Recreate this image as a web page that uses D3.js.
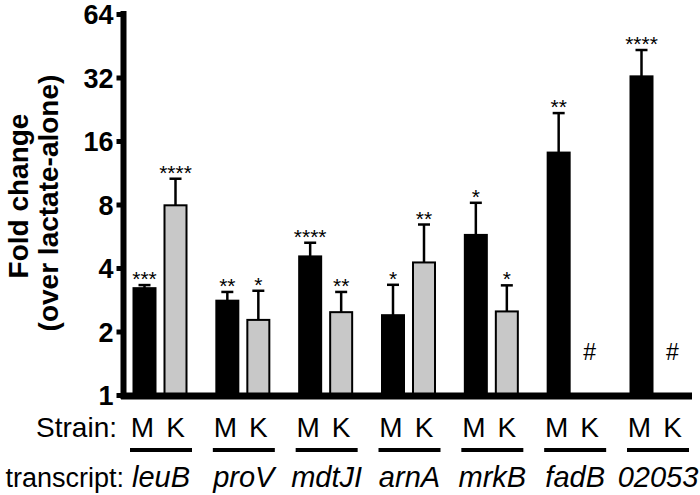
<!DOCTYPE html>
<html><head><meta charset="utf-8">
<script src="https://cdn.jsdelivr.net/npm/d3@7"></script>
<style>body{margin:0;background:#fff}svg{display:block}text{font-family:"Liberation Sans",Arial,sans-serif}</style>
</head><body><svg id="c" width="700" height="495"></svg>
<script>
const transcripts = ["leuB","proV","mdtJI","arnA","mrkB","fadB","02053"];
const strains = ["M","K"];
const mValues = [3.21, 2.80, 4.54, 2.39, 5.74, 14.1, 32.4];
const mUpper  = [3.32, 3.08, 5.27, 3.33, 8.15, 21.7, 43.2];
const kValues = [7.93, 2.27, 2.47, 4.25, 2.49, null, null];
const kUpper  = [10.6, 3.12, 3.08, 6.43, 3.31, null, null];
const mSig = ["***","**","****","*","*","**","****"];
const kSig = ["****","*","**","**","*","#","#"];
const yTicks = [1,2,4,8,16,32,64];

const svg = d3.select("#c");
const y = d3.scaleLog().base(2).domain([1,64]).range([395,14]);
const x = d3.scalePoint().domain(transcripts).range([160,657]);
const xs = d3.scalePoint().domain(strains).range([-15.5,15.5]);
const bw = 22;

const rows = [];
transcripts.forEach((t,i)=>{
  rows.push({t, s:"M", v:mValues[i], u:mUpper[i], sig:mSig[i]});
  rows.push({t, s:"K", v:kValues[i], u:kUpper[i], sig:kSig[i]});
});
const bars = rows.filter(d=>d.v!=null);

svg.selectAll("rect.bar").data(bars).join("rect")
  .attr("x", d=>x(d.t)+xs(d.s)-bw/2)
  .attr("y", d=>y(d.v))
  .attr("width", bw)
  .attr("height", d=>y(1)-y(d.v))
  .attr("fill", d=>d.s==="M"?"#000":"#c8c8c8")
  .attr("stroke","#000").attr("stroke-width",2);

svg.selectAll("line.err").data(bars).join("line")
  .attr("x1", d=>x(d.t)+xs(d.s)).attr("x2", d=>x(d.t)+xs(d.s))
  .attr("y1", d=>y(d.v)).attr("y2", d=>y(d.u))
  .attr("stroke","#000").attr("stroke-width",2.5);
svg.selectAll("line.cap").data(bars).join("line")
  .attr("x1", d=>x(d.t)+xs(d.s)-6).attr("x2", d=>x(d.t)+xs(d.s)+6)
  .attr("y1", d=>y(d.u)).attr("y2", d=>y(d.u))
  .attr("stroke","#000").attr("stroke-width",2.5);

svg.selectAll("text.sig").data(rows.filter(d=>d.sig!=="#")).join("text")
  .attr("x", d=>x(d.t)+xs(d.s)).attr("y", d=>y(d.u)+1)
  .attr("text-anchor","middle").attr("font-size",21).text(d=>d.sig);
svg.selectAll("text.hash").data(rows.filter(d=>d.sig==="#")).join("text")
  .attr("x", d=>x(d.t)+xs(d.s)).attr("y", 360)
  .attr("text-anchor","middle").attr("font-size",23).text(d=>d.sig);

const yAxis = svg.append("g").attr("transform","translate(123.5,0)")
  .call(d3.axisLeft(y).tickValues(yTicks).tickFormat(d3.format("d")).tickSize(7).tickPadding(3));
yAxis.select(".domain").attr("stroke-width",6).attr("d",`M0,${y(64)-3}V${y(1)+4}`);
yAxis.selectAll(".tick line").attr("stroke-width",5).attr("x1",-1);
yAxis.selectAll(".tick text").attr("font-size",27).attr("font-weight","bold").attr("dy","0.36em")
  .attr("font-family","'Liberation Sans',Arial,sans-serif").attr("fill","#000");

svg.append("line").attr("x1",121).attr("x2",692).attr("y1",y(1)+1).attr("y2",y(1)+1)
  .attr("stroke","#000").attr("stroke-width",7);

svg.append("text").attr("transform","translate(28,196) rotate(-90)")
  .attr("text-anchor","middle").attr("font-size",28).attr("font-weight","bold").text("Fold change");
svg.append("text").attr("transform","translate(58,203) rotate(-90)")
  .attr("text-anchor","middle").attr("font-size",28).attr("font-weight","bold").text("(over lactate-alone)");

svg.append("text").attr("x",117).attr("y",437).attr("text-anchor","end").attr("font-size",28).text("Strain:");
svg.selectAll("text.strain").data(rows).join("text")
  .attr("x", d=>x(d.t)+xs(d.s)-(d.s==="M"?2:0)).attr("y",437)
  .attr("text-anchor","middle").attr("font-size",28).text(d=>d.s);
svg.selectAll("line.ul").data(transcripts).join("line")
  .attr("x1", d=>x(d)-30).attr("x2", d=>x(d)+32).attr("y1",450).attr("y2",450)
  .attr("stroke","#000").attr("stroke-width",4);
svg.append("text").attr("x",124).attr("y",487).attr("text-anchor","end").attr("font-size",27).text("transcript:");
svg.selectAll("text.tr").data(transcripts).join("text")
  .attr("x", d=>x(d)+1).attr("y",487).attr("text-anchor","middle")
  .attr("font-size",29).attr("font-style","italic").text(d=>d);
</script></body></html>
